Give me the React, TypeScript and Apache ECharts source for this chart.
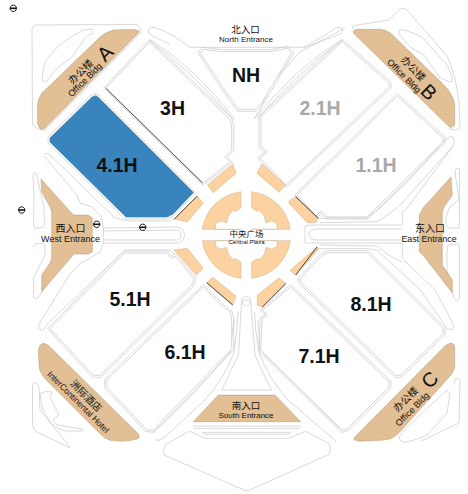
import React, { useEffect, useRef } from "react";
import * as echarts from "echarts";

const W = 468;
const H = 494;

type Pt = [number, number];

// ---- data: hall names and their state
const activeHalls = ["4.1H"];
const dimmedHalls = ["2.1H", "1.1H"];
const normalHalls = ["NH", "3H", "5.1H", "6.1H", "7.1H", "8.1H"];
const hallNames = [...normalHalls, ...dimmedHalls, ...activeHalls];
const northLabels = ["北入口", "North Entrance"];
const southLabels = ["南入口", "South Entrance"];
const westLabels = ["西入口", "West Entrance"];
const eastLabels = ["东入口", "East Entrance"];
const plazaLabels = ["中央广场", "Central Plaza"];
const officeLabels = ["办公楼", "Office Bldg"];
const officeLetters = ["A", "B", "C"];
const hotelLabels = ["洲际酒店", "InterContinental Hotel"];

// ---- floor plan drawing
const hallShapes: Record<string, Pt[]> = {
  NH: [[200, 52.7], [203.3, 49.3], [223, 51.7], [270, 51.7], [286.7, 48.3], [291.7, 52.7], [261.7, 103], [255, 109.3], [238.3, 109.3], [223.3, 88]],
  "3H": [[149.5, 42], [230, 119.5], [231.7, 125], [231.7, 150], [225, 157], [230, 162], [203, 183], [106, 88]],
  "4.1H": [[92, 97], [96, 95.6], [99, 98], [193.5, 192.5], [173, 214], [167, 217], [126, 217], [50, 142], [50, 138]],
  "2.1H": [[342.3, 41.7], [389, 83.3], [389, 87], [286, 185], [260, 158], [267, 152], [261, 146], [261, 117]],
  "1.1H": [[397.3, 96], [443.3, 138.3], [443, 142], [367, 217], [327, 217], [321, 211], [316, 216], [297.3, 195]],
  "5.1H": [[50, 328.7], [125, 253], [166.7, 253], [171.7, 258.7], [175, 256], [194, 278.7], [191.7, 285.3], [100, 375.3], [93.3, 375.3]],
  "6.1H": [[106.7, 380.3], [203.3, 287], [223.3, 307], [230, 312], [231.7, 318.7], [231.7, 348.7], [153.3, 430.3], [146.7, 429.7], [106.7, 387]],
  "7.1H": [[262.3, 310.3], [267.3, 315.3], [262.3, 318.7], [260.7, 350.3], [342.3, 430.3], [347.3, 428.7], [389, 387], [389, 382], [290.7, 287]],
  "8.1H": [[300.7, 278.7], [320.7, 257], [327, 252.7], [367, 252.7], [443, 328.7], [443, 333.7], [400.7, 375.3], [395.7, 375.3], [300.7, 282]],
};

const brownShapes: string[] = [
  // office A
  "M138.5,30.5 Q136,29.5 128,29.5 L113,30 Q106,32 100,37 L42,93 Q37,100 37.5,108 L37.5,123 Q39,129 42,129.5 L45,128 L138.5,33 Z",
  // office B
  "M353.3,30.7 L357,29.3 L380.7,29.3 Q386,30 390.7,33.3 L442.3,83.3 Q449,90 452.3,96.7 Q455,102 454.7,106.7 L454.7,125 L450.7,127.7 L447.3,125 L353.3,33 Z",
  // office C
  "M354.7,437 L354,439.7 L359,441.3 L380.7,440.3 Q386,440 390.7,438.7 Q396,436 399.7,432 L450.7,375.3 Q454,371 454.7,367 L454.7,347 Q454,343 450.7,343 L445.7,345.3 Z",
  // hotel
  "M40,345.3 L43.3,343 L48.3,345.3 L138.3,433.7 Q140,437 138.3,438.7 Q130,441 121.7,441.3 Q115,441 110,440.3 Q104,438 100,433.7 L45,378.7 Q40,372 39.3,368.7 L38.3,350 Z",
  // west
  "M41,179 L73.3,215 L88.3,215 L92.3,218 L92.3,252 L88.3,254 L74,254 L41.7,291.7 L41.7,275 L50,263 L51.7,258 L51.7,212 L50,207 L41.7,192 Z",
  // east
  "M451,177 L452.3,195 L444,207 L442.3,212 L442.3,265 L452.3,280 L452.3,293 L423,255 L419.3,252 L419.3,215 L423,208 Z",
  // south
  "M193.3,421.7 L218.3,395 L275,395 L300.7,421.7 Z",
];

const plazaTiles: Pt[][] = [
  [[207.3, 185], [232.7, 164], [236, 173.3], [213.3, 192.7]],
  [[174, 219.3], [197.3, 196], [203.3, 203.3], [187.3, 221.7]],
  [[174, 250], [187.3, 248.3], [203.3, 268.3], [196, 275]],
  [[206.7, 282.7], [212.7, 277.3], [236, 296], [232.7, 305]],
  [[257, 173.3], [261.7, 164], [285.7, 185], [279, 192.3]],
  [[289, 201], [295.7, 196.7], [318.3, 218.3], [315.7, 222.7], [307.3, 222.7], [289, 203.3]],
  [[290, 270.3], [317, 247], [319, 249], [295.7, 275]],
  [[257.3, 295.3], [279, 277.7], [285.7, 283.7], [262.3, 307], [257.3, 305.3]],
];

const blackEdges: string[] = [
  "M105.5,88 L202.5,183",
  "M174,219.3 L197.3,196",
  "M206.7,282.7 L232.7,305",
  "M295.7,196.7 L318.3,218.3",
  "M317,247 L295.7,275",
  "M285.7,283.7 L262.3,307",
];

const roads: string[] = [
  // NW block around office A
  "M32,30 Q32,25 37,25 L135,24.5 Q140,25 140.5,30 L140.5,33 L45,130 Q36,130 32.5,124 Z",
  "M42,80 Q43,62 50,55 Q60,42 83,30 L92,29 Q94,31 92.5,33.5 Q85,36 83,41 L72,57 L65,62 L55,70 L47,81 Q44,83 42,80 Z",
  // north road
  "M148.5,33 L148.5,29 Q150,26.5 156,28 Q170,32 190,47.3 L303.3,47.3 Q325,36 334,29 Q340,26 342.5,29 L342.5,32 Q340,34.5 330,38 L303,48",
  "M148.5,33 Q155,38 170,44",
  // NE block around office B
  "M352.5,29 Q352,25 358,25 L389,20 L399,9.5 Q404,7 408,11 L447,56 Q456,75 459,103 L460,128 Q456,132 449,128",
  "M399,30 Q403,28 422,37 L447,65 Q452,75 452.5,81 L450,82 L440,78 L424,55 L410,47 L399,34 Z",
  // west
  "M33,176 Q33,172 36,173 L40,190 L44,208 L44.5,225 Q44,228 40,228 L35,228 L33.5,225 L34,198 Z",
  "M33.5,247 Q34,244 37,243.5 L43,243.5 Q45,245 45,247 L45,255 L40,265 L33.5,278 L33.5,297 Q35,299 38,298 L42,292",
  "M44,155 Q46,152 49,154 L114,217 Q122,221 130,221 L170,221 L173.3,218",
  "M44,156 L77,195 L80,203 L91.7,207 L101.7,217 L103.3,229 L103.3,243 L100,252 L80,264 L70,274 L38.5,325 Q39,331 43.3,330 L48.3,323 L125,250 L170,250 L174,254",
  "M103,231 L178,230 Q181,231 181,235 Q181,239 178,240 L103,240",
  "M103,228 L177,227 Q184,228 184.5,235 Q184,242 177,243 L103,243",
  // east
  "M459,170 Q460,167 456,169 Q455,170 455,172 L459,200 L449,208 L446,218 L446,225 L449,228 L459,228 L459.5,222 L459.5,170",
  "M448,245 L458,244 L459.5,247 L459.5,299 Q457,302 454,298 L451,287 L447,270 L447,252 Z",
  "M402,243 L305,243 Q305,234 305,226 Q310,224.5 320,225 L402,225",
  "M402,240 L316,240 Q309,240 309,233 Q309,230 316,229 L402,229",
  "M296,197 L318.3,218.3 L328,218 L367,218 L380,208 L407,182 L445,140 L452,136 Q456,142 452.3,147 L407,208 L402.3,213 L402.3,225",
  "M320,222.7 L377,221.7 L390.7,213 L402,203 L452.3,147",
  "M402.3,243 L402.3,258 L407,263 L435,290 L450,318 L454,327 L452.3,329.7 L447.3,328.7 L420.7,290.3 L377.3,250.3 L367,248.7 L317.3,248.7",
  "M320,245 L377,246 L390,256 L402,262",
  // south & plaza details
  "M193.3,426 L300.7,426",
  "M193.3,428.3 L300.7,428.3",
  "M202,432.3 L291,432.3 L289,434.3 L204,434.3 Z",
  "M189.3,431 L165,445 Q162,450 164,455 L244,490 Q247,491.5 250,490 L329,454.3 Q332,450 329,443.7 L305.7,431.3 L288,438.3 L205,438.3 Z",
  "M221.7,390 Q230,372 238.5,355 L241,312 L241.5,306",
  "M271.7,390 Q262,372 255,355 L251.5,312 L251,306",
  "M221.7,390 L271.7,390",
  "M241,306 Q241,300 246.3,300 Q251.5,300 251.5,306",
  "M238,312 Q237.5,330 234,352 Q225,378 205,400 L165,437 L158,441 Q156,441.5 157,438",
  "M254.5,312 Q255,330 259,352 Q268,378 288,400 L331,437 L336,441",
  "M340,428.5 L260,350 L258,320",
  "M153,432 Q190,400 230,352 L234,320",
  // north arcs
  "M149,40 Q190,70 233,119",
  "M151,40 Q195,68 235,119",
  "M343,40 Q300,70 257,119",
  "M341,40 Q296,68 254,119",
  "M345,28 L300,52 L270,85 L260,110 L254,119",
  // SW hotel block
  "M32.5,385 Q33,383 36,383 Q38,384 39,388 L40,410 L70,447",
  "M32.5,385 L32.5,425 Q33,430 37,432 L70,448",
  "M40,394 Q45,390 52,392 L50,397 L59,415 L53,420 L57,425 L82,429 L83,431 L67,431 Q58,430 52,424 Q45,415 42,407 Z",
  // SE block
  "M399,437 L404,430 L447,390 L450,394 L447,413 L427,435 Q412,442 403,442 Q399,441 399,437 Z",
  "M421,441 L459,423 L460,380 Q458,377 455,379 L454.5,384",
];

const smallRoadCircle = { cx: 246.3, cy: 301, r: 4.5 };
const metroMarks: Pt[] = [[13.3, 8.3], [21.7, 210], [96.7, 224.3], [142.7, 227.3]];

const plazaCenter: Pt = [246.3, 235];
const plazaQuarter: Pt[] = [[241, 229.3], [215, 229.3], [216, 223.3], [221, 221], [226.7, 222.7], [228.3, 216], [233.3, 210], [235, 211.7], [241, 207.7]];

const COLORS = {
  road: "#c9c9c9",
  hallStroke: "#c4c4c4",
  brown: "#e2bf94",
  brownStroke: "#a48a68",
  tile: "#fcd3a0",
  tileStroke: "#bca27e",
  blue: "#3a84bd",
  dim: "#a9a9a9",
  text: "#111111",
};

const polyD = (pts: Pt[]) => "M" + pts.map((p) => p.join(",")).join(" L") + " Z";

// Outline at a constant distance from a polygon
const offsetPoly = (pts: Pt[], d: number): Pt[] => {
  const n = pts.length;
  let area = 0;
  pts.forEach((p, i) => {
    const q = pts[(i + 1) % n];
    area += p[0] * q[1] - q[0] * p[1];
  });
  const s = area > 0 ? 1 : -1;
  return pts.map((p, i) => {
    const a = pts[(i + n - 1) % n];
    const b = pts[(i + 1) % n];
    const l1 = Math.hypot(p[0] - a[0], p[1] - a[1]) || 1;
    const l2 = Math.hypot(b[0] - p[0], b[1] - p[1]) || 1;
    const n1: Pt = [((p[1] - a[1]) / l1) * s, (-(p[0] - a[0]) / l1) * s];
    const n2: Pt = [((b[1] - p[1]) / l2) * s, (-(b[0] - p[0]) / l2) * s];
    const mx = n1[0] + n2[0];
    const my = n1[1] + n2[1];
    const m = Math.hypot(mx, my) || 1;
    const dot = Math.max(0.85, (mx / m) * n1[0] + (my / m) * n1[1]);
    return [p[0] + (mx / m) * (d / dot), p[1] + (my / m) * (d / dot)] as Pt;
  });
};

const plazaPath = (sx: number, sy: number) => {
  const [cx, cy] = plazaCenter;
  const pts = plazaQuarter.map(([x, y]) => [cx + (x - cx) * sx, cy + (y - cy) * sy] as Pt);
  const start = pts[0];
  const outerA: Pt = [cx + (202.3 - cx) * sx, cy + (229.3 - cy) * sy];
  const outerB: Pt = [cx + (241 - cx) * sx, cy + (191.7 - cy) * sy];
  const sweep = sx * sy > 0 ? 0 : 1;
  return `M${start[0]},${start[1]} L${pts.slice(1).map((p) => p.join(",")).join(" L")} L${outerB[0]},${outerB[1]} A44,44 0 0 ${sweep} ${outerA[0]},${outerA[1]} Z`;
};

const FONT = "Liberation Sans, Noto Sans CJK SC";
const CJK = "Noto Sans CJK SC, Liberation Sans";
const txt = (s: string, x: number, y: number, size: number, opts: { fill?: string; bold?: boolean; rot?: number; cjk?: boolean } = {}) => {
  const tr = opts.rot ? ` transform="rotate(${opts.rot} ${x} ${y})"` : "";
  return `<text x="${x}" y="${y}"${tr} text-anchor="middle" font-size="${size}" font-family="${opts.cjk ? CJK : FONT}" font-weight="${opts.bold ? "bold" : "normal"}" fill="${opts.fill || COLORS.text}">${s}</text>`;
};

const hallLabelPos: Record<string, Pt> = {
  NH: [246, 75], "3H": [172.5, 108], "4.1H": [117, 165], "2.1H": [320, 108], "1.1H": [376, 165],
  "5.1H": [130, 299], "6.1H": [185, 352], "7.1H": [319, 356], "8.1H": [371, 304],
};

const buildSvg = () => {
  const parts: string[] = [];
  const stroke = `fill="none" stroke="${COLORS.road}" stroke-width="0.7"`;
  roads.forEach((d) => parts.push(`<path d="${d}" ${stroke}/>`));
  hallNames.forEach((h) => {
    parts.push(`<path d="${polyD(offsetPoly(hallShapes[h], 2))}" ${stroke}/>`);
    parts.push(`<path name="${h}" d="${polyD(hallShapes[h])}" fill="#fff"/>`);
  });
  parts.push(`<circle cx="${smallRoadCircle.cx}" cy="${smallRoadCircle.cy}" r="${smallRoadCircle.r}" ${stroke}/>`);
  brownShapes.forEach((d) => parts.push(`<path d="${d}" fill="${COLORS.brown}" stroke="${COLORS.brownStroke}" stroke-width="0.4"/>`));
  plazaTiles.forEach((t) => parts.push(`<path d="${polyD(t)}" fill="${COLORS.tile}" stroke="${COLORS.tileStroke}" stroke-width="0.4"/>`));
  [[1, 1], [-1, 1], [1, -1], [-1, -1]].forEach(([a, b]) =>
    parts.push(`<path d="${plazaPath(a, b)}" fill="${COLORS.tile}" stroke="${COLORS.tileStroke}" stroke-width="0.4"/>`)
  );
  blackEdges.forEach((d) => parts.push(`<path d="${d}" fill="none" stroke="#222" stroke-width="0.8"/>`));
  metroMarks.forEach(([x, y]) => {
    parts.push(`<circle cx="${x}" cy="${y}" r="3.2" fill="#fff" stroke="#111" stroke-width="1"/>`);
    parts.push(`<path d="M${x - 3.2},${y} L${x + 3.2},${y}" stroke="#111" stroke-width="1.6" fill="none"/>`);
  });
  hallNames.forEach((h) => {
    const [x, y] = hallLabelPos[h];
    parts.push(txt(h, x, y, 19.5, { bold: true, fill: dimmedHalls.includes(h) ? COLORS.dim : COLORS.text }));
  });
  parts.push(txt(northLabels[0], 245.5, 29, 9.5, { cjk: true }), txt(northLabels[1], 246, 39.5, 8));
  parts.push(txt(southLabels[0], 246, 405, 9.5, { cjk: true }), txt(southLabels[1], 246, 415, 8));
  parts.push(txt(westLabels[0], 70.5, 227, 10, { cjk: true }), txt(westLabels[1], 70.5, 238.5, 9));
  parts.push(txt(eastLabels[0], 430, 227, 10, { cjk: true }), txt(eastLabels[1], 429, 238.5, 8.8));
  parts.push(txt(plazaLabels[0], 246.5, 233, 8.5, { cjk: true }), txt(plazaLabels[1], 246.5, 241.5, 6));
  parts.push(txt(officeLabels[0], 80, 71, 10, { cjk: true, rot: -45 }), txt(officeLabels[1], 85, 80, 9, { rot: -45 }), txt(officeLetters[0], 105, 53, 20, { rot: -45 }));
  parts.push(txt(officeLabels[0], 414, 68, 10, { cjk: true, rot: 45 }), txt(officeLabels[1], 404, 76, 9, { rot: 45 }), txt(officeLetters[1], 429, 92, 20, { rot: 45 }));
  parts.push(txt(officeLabels[0], 405, 398.7, 10, { cjk: true, rot: -45 }), txt(officeLabels[1], 412.3, 409.3, 9, { rot: -45 }), txt(officeLetters[2], 429.7, 379.7, 20, { rot: -45 }));
  parts.push(txt(hotelLabels[0], 86.7, 395.3, 10, { cjk: true, rot: 45 }), txt(hotelLabels[1], 78.3, 402, 8.6, { rot: 45 }));
  return `<svg xmlns="http://www.w3.org/2000/svg" width="${W}" height="${H}" viewBox="0 0 ${W} ${H}">${parts.join("")}</svg>`;
};

export default function App() {
  const ref = useRef<HTMLDivElement>(null);
  useEffect(() => {
    if (!ref.current) return;
    echarts.registerMap("expoHalls", { svg: buildSvg() });
    const chart = echarts.init(ref.current, undefined, { renderer: "svg" });
    chart.setOption({
      animation: false,
      backgroundColor: "#fff",
      series: [
        {
          type: "map",
          map: "expoHalls",
          roam: false,
          silent: true,
          left: 0,
          top: 0,
          right: 0,
          bottom: 0,
          label: { show: false },
          itemStyle: { areaColor: "#fff", borderColor: COLORS.hallStroke, borderWidth: 0.7 },
          data: hallNames.map((name) => ({
            name,
            value: activeHalls.includes(name) ? 1 : 0,
            itemStyle: activeHalls.includes(name) ? { areaColor: COLORS.blue, borderColor: COLORS.blue } : undefined,
          })),
        },
      ],
    });
    return () => chart.dispose();
  }, []);
  return <div ref={ref} style={{ position: "absolute", left: 0, top: 0, width: W, height: H }} />;
}
